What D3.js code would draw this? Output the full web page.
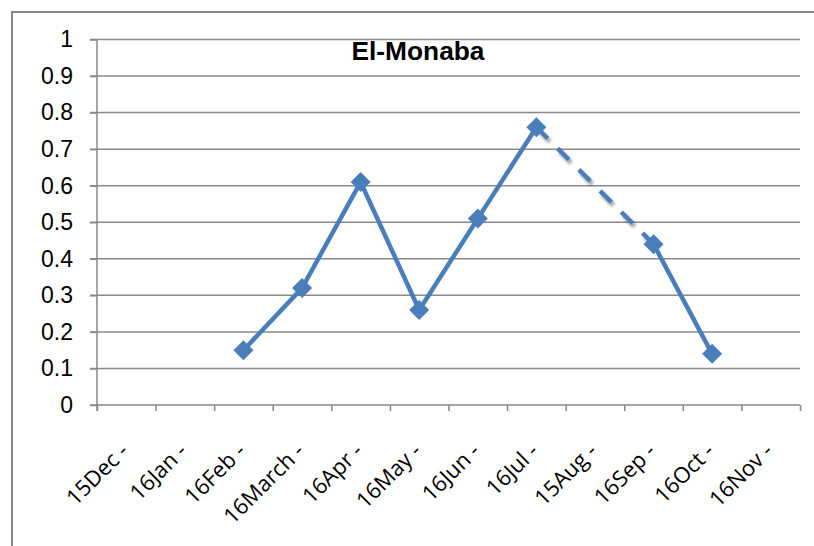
<!DOCTYPE html>
<html>
<head>
<meta charset="utf-8">
<script src="https://cdn.jsdelivr.net/npm/d3@7"></script>
<style>
  body { margin: 0; background: #fff; }
  svg { display: block; }
</style>
</head>
<body>
<svg id="chart"></svg>
<script>
// month categories along x, as printed on the chart
var categories = ["15Dec -", "16Jan -", "16Feb -", "16March -", "16Apr -", "16May -",
                  "16Jun -", "16Jul -", "15Aug -", "16Sep -", "16Oct -", "16Nov -"];
// series values (null = no reading that month)
var values = [null, null, 0.15, 0.32, 0.61, 0.26, 0.51, 0.76, null, 0.44, 0.14, null];
var yTicks = [0, 0.1, 0.2, 0.3, 0.4, 0.5, 0.6, 0.7, 0.8, 0.9, 1];
var title = "El-Monaba";

var width = 814, height = 546;
var margin = { top: 39.5, left: 97, right: 14, bottom: 141 };
var plotRight = width - margin.right;
var plotBottom = height - margin.bottom;
var gray = "#898989";
var blue = "#4a7ebb";

var data = categories.map(function(c, i) { return { cat: c, value: values[i] }; });

var svg = d3.select("#chart")
  .attr("width", width)
  .attr("height", height);

var defs = svg.append("defs");
var shadow = defs.append("filter").attr("id", "shadow")
  .attr("x", "-50%").attr("y", "-50%").attr("width", "200%").attr("height", "200%");
shadow.append("feDropShadow")
  .attr("dx", 2).attr("dy", 3).attr("stdDeviation", 1.8)
  .attr("flood-color", "#000").attr("flood-opacity", 0.4);

// outer frame (cut off on right and bottom like the original)
svg.append("rect")
  .attr("x", 12).attr("y", 12)
  .attr("width", width).attr("height", height)
  .attr("fill", "none")
  .attr("stroke", gray)
  .attr("stroke-width", 2);

var x = d3.scaleBand()
  .domain(categories)
  .range([margin.left, plotRight])
  .padding(0);

var xEdge = d3.scaleLinear()
  .domain([0, categories.length])
  .range([margin.left, plotRight]);

var y = d3.scaleLinear()
  .domain([0, 1])
  .range([plotBottom, margin.top]);

// gridlines
svg.append("g")
  .selectAll("line")
  .data(yTicks.slice(1))
  .enter()
  .append("line")
  .attr("x1", margin.left - 7)
  .attr("x2", plotRight)
  .attr("y1", function(d) { return y(d); })
  .attr("y2", function(d) { return y(d); })
  .attr("stroke", gray)
  .attr("stroke-width", 1.5);

// y axis
var yAxis = d3.axisLeft(y)
  .tickValues(yTicks)
  .tickSize(7)
  .tickSizeOuter(0)
  .tickPadding(17)
  .tickFormat(function(d) { return (d === 0 || d === 1) ? String(d) : d.toFixed(1); });

var gy = svg.append("g")
  .attr("transform", "translate(" + margin.left + ",0)")
  .call(yAxis);
gy.attr("font-size", 23).attr("font-family", "'Liberation Sans', Arial, sans-serif");
gy.select(".domain").attr("stroke", gray).attr("stroke-width", 1.5)
  .attr("d", "M0," + margin.top + "V" + (plotBottom + 6));
gy.selectAll(".tick line").attr("stroke", gray).attr("stroke-width", 1.5);
gy.selectAll(".tick text").attr("fill", "#000");

// x axis: ticks sit on category boundaries
var xAxis = d3.axisBottom(xEdge)
  .ticks(categories.length)
  .tickSize(6)
  .tickSizeOuter(0)
  .tickFormat("");

var gx = svg.append("g")
  .attr("transform", "translate(0," + plotBottom + ")")
  .call(xAxis);
gx.select(".domain").attr("stroke", gray).attr("stroke-width", 1.5)
  .attr("d", "M" + (margin.left - 7) + ",0H" + plotRight);
gx.selectAll(".tick line").attr("stroke", gray).attr("stroke-width", 1.5);

// rotated category labels
svg.append("g")
  .attr("font-family", "'Open Sans', sans-serif")
  .attr("font-size", 22)
  .selectAll("text")
  .data(categories)
  .enter()
  .append("text")
  .attr("transform", function(d) {
    return "translate(" + (x(d) + x.bandwidth() / 2 - 2) + "," + (plotBottom + 42) + ") rotate(-45)";
  })
  .attr("text-anchor", "end")
  .attr("dy", "0.35em")
  .attr("fill", "#000")
  .text(function(d) { return d; });

// dashed bridges across missing months
var bridges = [];
var lastIdx = null;
data.forEach(function(d, i) {
  if (d.value === null) return;
  if (lastIdx !== null && i - lastIdx > 1) bridges.push([data[lastIdx], d]);
  lastIdx = i;
});

var line = d3.line()
  .defined(function(d) { return d.value !== null; })
  .x(function(d) { return x(d.cat) + x.bandwidth() / 2; })
  .y(function(d) { return y(d.value); });

svg.append("g")
  .attr("filter", "url(#shadow)")
  .selectAll("path")
  .data(bridges)
  .enter()
  .append("path")
  .attr("d", line)
  .attr("fill", "none")
  .attr("stroke", blue)
  .attr("stroke-width", 4.5)
  .attr("stroke-dasharray", "16,14");

svg.append("path")
  .datum(data)
  .attr("d", line)
  .attr("fill", "none")
  .attr("stroke", blue)
  .attr("stroke-width", 4.5)
  .attr("stroke-linejoin", "miter");

// diamond markers
var diamond = d3.symbol().type(d3.symbolSquare).size(200);
svg.append("g")
  .selectAll("path")
  .data(data.filter(function(d) { return d.value !== null; }))
  .enter()
  .append("path")
  .attr("d", diamond)
  .attr("transform", function(d) {
    return "translate(" + (x(d.cat) + x.bandwidth() / 2) + "," + y(d.value) + ") rotate(45)";
  })
  .attr("fill", blue);

// title
svg.append("text")
  .attr("x", 418)
  .attr("y", 60)
  .attr("text-anchor", "middle")
  .attr("textLength", 133)
  .attr("lengthAdjust", "spacingAndGlyphs")
  .style("font-family", "'Liberation Sans', Arial, sans-serif")
  .style("font-weight", "bold")
  .style("font-size", "26px")
  .attr("fill", "#000")
  .text(title);
</script>
</body>
</html>
